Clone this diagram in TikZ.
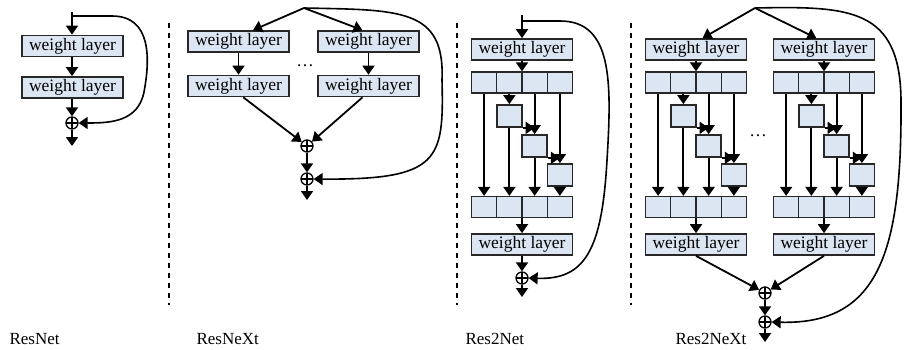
\documentclass[tikz,border=0pt]{standalone}
\usepackage{fontspec}
\setmainfont{Liberation Serif}
\usetikzlibrary{arrows.meta}

\definecolor{boxblue}{RGB}{220,230,242}
\definecolor{boxline}{RGB}{40,40,40}
\newcommand\wlfont{\fontsize{17.5}{20}\selectfont}

\tikzset{
	layer/.style={draw=boxline, fill=boxblue, line width=1.7pt, minimum width=101pt, minimum height=21pt, inner sep=0pt, font=\wlfont},
	cell/.style={draw=boxline, fill=boxblue, line width=1.3pt, minimum width=25.25pt, minimum height=21pt, inner sep=0pt},
	sub/.style={cell, line width=1.7pt, minimum width=25pt, minimum height=22pt},
	add/.style={circle, draw, line width=1.3pt, minimum size=12pt, inner sep=0pt,
		path picture={\draw[line width=1.3pt] (path picture bounding box.north) -- (path picture bounding box.south)
			(path picture bounding box.west) -- (path picture bounding box.east);}},
	arr/.style={-{Triangle[length=9pt,width=12pt]}, line width=1.8pt},
	skip/.style={arr, line width=1.6pt},
	sep/.style={dash pattern=on 5pt off 5pt, line width=2pt},
	caption/.style={anchor=west, font=\fontsize{17}{20}\selectfont}
}

\begin{document}
\begin{tikzpicture}[x=1pt, y=-1pt]
	\useasboundingbox (0,0) rectangle (904,349);

	% separators
	\draw[sep] (169,23) -- (169,305);
	\draw[sep] (457,23) -- (457,305);
	\draw[sep] (631,23) -- (631,305);

	% ResNet
	\coordinate (rn-in) at (72,12);
	\coordinate (rn-skip) at (72,16);
	\node[layer] (rn-w1) at (72.5,46) {weight layer};
	\node[layer] (rn-w2) at (72.5,87.5) {weight layer};
	\node[add] (rn-add) at (72,123) {};
	\coordinate (rn-out) at (72,146);
	\draw[arr] (rn-in) -- (rn-w1.north -| rn-in);
	\draw[arr] (rn-w1.south -| rn-in) -- (rn-w2.north -| rn-in);
	\draw[arr] (rn-w2.south -| rn-in) -- (rn-add);
	\draw[arr] (rn-add) -- (rn-out);
	\draw[skip] (rn-skip) -- (112,16) .. controls (152,16) and (150,60) .. (144,92) .. controls (138,122) and (110,123) .. (rn-add.east);
	\node[caption] at (6,339) {ResNet};

	% ResNeXt
	\coordinate (rx-in) at (304,8);
	\node[layer] (rx-a1) at (238.5,41.5) {weight layer};
	\node[layer] (rx-a2) at (238.5,86) {weight layer};
	\node[layer] (rx-b1) at (368.5,41.5) {weight layer};
	\node[layer] (rx-b2) at (368.5,86) {weight layer};
	\node[font=\wlfont] (rx-dots) at (305,66) {\dots};
	\node[add] (rx-add1) at (307,146) {};
	\node[add] (rx-add2) at (307,179) {};
	\coordinate (rx-out) at (307,200);
	\draw[arr] (rx-in) -- (rx-a1.38);
	\draw[arr] (rx-in) -- (rx-b1.118);
	\draw[arr] (rx-a1) -- (rx-a2);
	\draw[arr] (rx-b1) -- (rx-b2);
	\draw[arr] (rx-a2.-67) -- (rx-add1);
	\draw[arr] (rx-b2.-118) -- (rx-add1);
	\draw[arr] (rx-add1) -- (rx-add2);
	\draw[arr] (rx-add2) -- (rx-out);
	\draw[skip] (rx-in) .. controls (400,10) and (445,8) .. (442,80) .. controls (444,160) and (440,180) .. (rx-add2.east);
	\node[caption] at (193,339) {ResNeXt};

	% multi-scale blocks (b = Res2Net, l/r = Res2NeXt)
	\foreach \c/\x in {b/522, l/696, r/824} {
		\node[layer] (w1\c) at (\x,49.5) {weight layer};
		\foreach \i/\dx in {1/-37.875, 2/-12.625, 3/12.625, 4/37.875} {
			\node[cell] (c\i\c) at ({\x+\dx},82.5) {};
			\node[cell] (m\i\c) at ({\x+\dx},207) {};
		}
		\node[sub] (s1\c) at ({\x-12.625},116) {};
		\node[sub] (s2\c) at ({\x+12.625},146) {};
		\node[sub] (s3\c) at ({\x+37.875},175) {};
		\node[layer] (w2\c) at (\x,244.5) {weight layer};
		\draw[arr] (w1\c.south) -- (w1\c.south |- c1\c.north);
		\draw[arr] (c1\c.south) -- (m1\c.north);
		\draw[arr] (c2\c.south) -- (s1\c.north);
		\draw[arr] (c3\c.south) -- (s2\c.north);
		\draw[arr] (c4\c.south) -- (s3\c.north);
		\draw[arr] (s1\c.south east) -- (s1\c.south east -| c3\c);
		\draw[arr] (s2\c.south east) -- (s2\c.south east -| c4\c);
		\draw[arr] (s1\c.south) -- (m2\c.north);
		\draw[arr] (s2\c.south) -- (m3\c.north);
		\draw[arr] (s3\c.south) -- (m4\c.north);
		\draw[arr] (w2\c.north |- m1\c.south) -- (w2\c.north);
	}

	% Res2Net
	\coordinate (r2-in) at (522,15);
	\coordinate (r2-skip) at (522,21);
	\node[add] (r2-add) at (522,278) {};
	\coordinate (r2-out) at (522,297);
	\draw[arr] (r2-in) -- (w1b.north);
	\draw[arr] (w2b) -- (r2-add);
	\draw[arr] (r2-add) -- (r2-out);
	\draw[skip] (r2-skip) -- (560,21) .. controls (612,21) and (612,80) .. (607,160) .. controls (602,250) and (585,280) .. (r2-add.east);
	\node[caption] at (462,339) {Res2Net};

	% Res2NeXt
	\coordinate (r2x-in) at (755,8);
	\node[font=\wlfont] (r2x-dots) at (758,136) {\dots};
	\node[add] (r2x-add1) at (765,293) {};
	\node[add] (r2x-add2) at (765,322) {};
	\coordinate (r2x-out) at (765,342);
	\draw[arr] (r2x-in) -- (w1l.60);
	\draw[arr] (r2x-in) -- (w1r.124);
	\draw[arr] (w2l.south) -- (r2x-add1);
	\draw[arr] (w2r.south) -- (r2x-add1);
	\draw[arr] (r2x-add1) -- (r2x-add2);
	\draw[arr] (r2x-add2) -- (r2x-out);
	\draw[skip] (r2x-in) .. controls (850,6) and (900,8) .. (901,100) .. controls (902,250) and (880,325) .. (r2x-add2.east);
	\node[caption] at (672,339) {Res2NeXt};
\end{tikzpicture}
\end{document}
